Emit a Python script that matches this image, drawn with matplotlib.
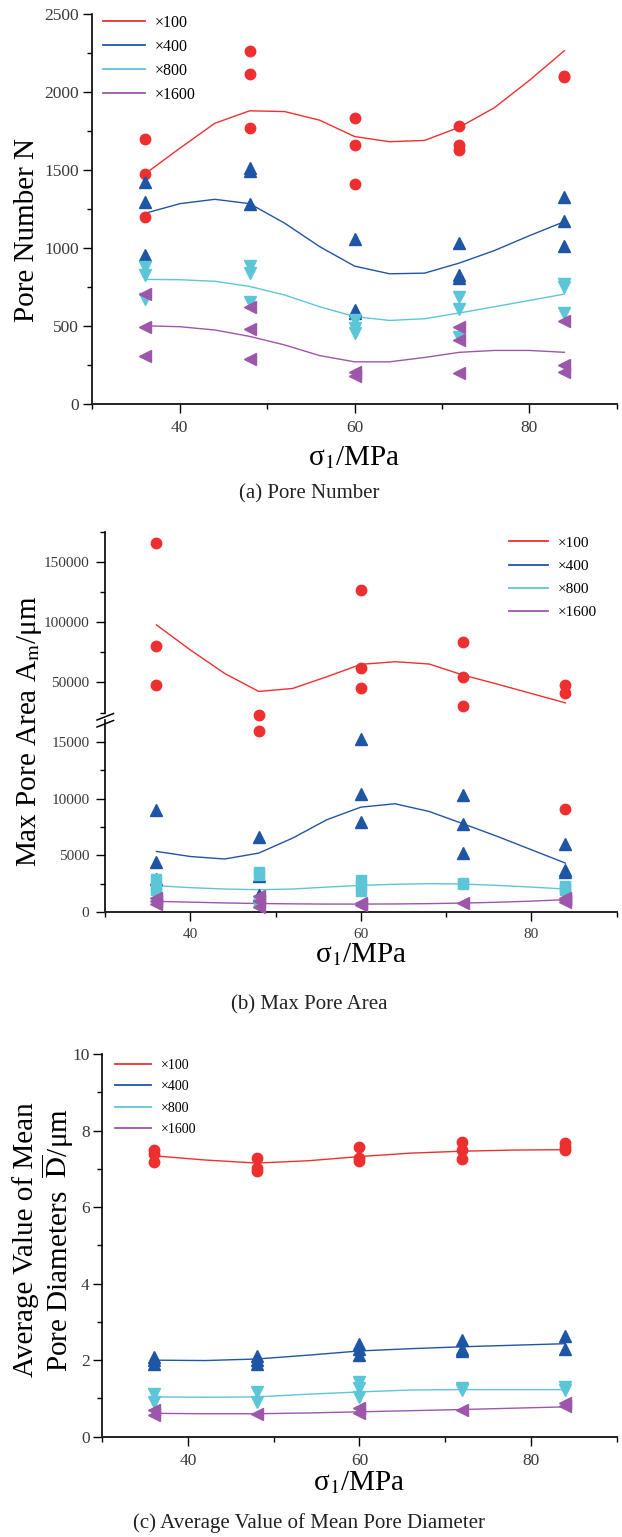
import matplotlib
matplotlib.use("Agg")
import matplotlib.pyplot as plt
from matplotlib.lines import Line2D
from matplotlib.ticker import MultipleLocator, FixedLocator

plt.rcParams['font.family'] = ['Liberation Serif', 'DejaVu Serif']
plt.rcParams['mathtext.fontset'] = 'stix'

# ---------------- data ----------------
sigma = [36, 48, 60, 72, 84]
series_labels = ['×100', '×400', '×800', '×1600']
colors = ['#EE2F2F', '#1F55A5', '#5CC6D8', '#9C56AA']

# (a) Pore Number N : measured points at each sigma
a_pts_100 = [[1699, 1473, 1202], [2263, 2116, 1772], [1834, 1663, 1409], [1783, 1661, 1627], [2103, 2094]]
a_pts_400 = [[1426, 1294, 956], [1511, 1497, 1281], [1057, 604, 583], [1035, 828, 811], [1326, 1174, 1014]]
a_pts_800 = [[882, 828, 673], [888, 839, 658], [540, 487, 455], [690, 608, 433], [771, 749, 583]]
a_pts_1600 = [[707, 493, 312], [626, 482, 288], [209, 181], [497, 412, 203], [536, 252, 209]]
# (a) fitted curves, read at these sigma values
a_curve_x = [36, 40, 44, 48, 52, 56, 60, 64, 68, 72, 76, 80, 84]
a_fit_100 = [1475, 1640, 1800, 1880, 1875, 1820, 1715, 1682, 1690, 1775, 1900, 2075, 2265]
a_fit_400 = [1223, 1285, 1313, 1285, 1160, 1010, 885, 836, 840, 905, 985, 1080, 1170]
a_fit_800 = [800, 798, 788, 755, 700, 625, 562, 537, 548, 585, 625, 665, 706]
a_fit_1600 = [503, 497, 476, 435, 380, 312, 272, 272, 300, 333, 345, 345, 333]

# (b) Max Pore Area
b_pts_100 = [[165600, 80300, 47500], [23300, 16000], [127200, 61900, 45300], [83900, 54700, 30600], [48100, 40800, 9100]]
b_pts_400 = [[8970, 4380, 2900], [6620, 3150, 1530], [15260, 10410, 7910], [10350, 7790, 5200], [6030, 3740, 3530]]
b_pts_800 = [[2940, 2260, 1970], [3530, 3290, 950], [2850, 2410, 1820], [2560, 2450], [2320, 1970, 2100]]
b_pts_1600 = [[1250, 950, 700], [1380, 940, 400], [800, 600], [760], [1090, 1200, 880]]
b_curve_x = [36, 40, 44, 48, 52, 56, 60, 64, 68, 72, 76, 80, 84]
b_fit_100 = [97800, 76900, 57500, 42500, 45000, 54700, 65000, 67200, 65300, 56100, 48600, 40800, 33000]
b_fit_400 = [5350, 4900, 4680, 5200, 6530, 8150, 9260, 9560, 8880, 7790, 6680, 5500, 4320]
b_fit_800 = [2320, 2150, 2030, 1970, 2030, 2200, 2350, 2450, 2500, 2470, 2350, 2200, 2030]
b_fit_1600 = [940, 870, 800, 750, 720, 700, 700, 710, 740, 790, 860, 960, 1090]

# (c) Average value of mean pore diameter
c_pts_100 = [[7.48, 7.39, 7.19], [7.28, 7.01, 6.93], [7.56, 7.28, 7.21], [7.69, 7.48, 7.26], [7.67, 7.58, 7.49]]
c_pts_400 = [[2.09, 1.91, 2.00], [2.10, 2.00, 1.90], [2.41, 2.30, 2.13], [2.52, 2.30, 2.24], [2.63, 2.29]]
c_pts_800 = [[1.11, 0.91], [1.16, 0.91], [1.42, 1.26, 1.04], [1.28, 1.22], [1.30, 1.22]]
c_pts_1600 = [[0.71, 0.57], [0.59], [0.74, 0.63], [0.71], [0.89, 0.80]]
c_curve_x = [36, 42, 48, 54, 60, 66, 72, 78, 84]
c_fit_100 = [7.34, 7.23, 7.15, 7.21, 7.32, 7.41, 7.46, 7.49, 7.50]
c_fit_400 = [2.00, 1.99, 2.03, 2.13, 2.24, 2.30, 2.35, 2.39, 2.43]
c_fit_800 = [1.04, 1.03, 1.04, 1.11, 1.17, 1.22, 1.23, 1.23, 1.23]
c_fit_1600 = [0.61, 0.60, 0.60, 0.62, 0.65, 0.68, 0.71, 0.745, 0.78]

# ---------------- layout helpers ----------------
W, H = 622, 1537
fig = plt.figure(figsize=(W / 100, H / 100), dpi=100)


def rect(l, r, t, b):
    return [l / W, 1 - b / H, (r - l) / W, (b - t) / H]


def expand(groups):
    xs = [s for s, g in zip(sigma, groups) for _ in g]
    ys = [v for g in groups for v in g]
    return xs, ys


TICK_COLOR = '#3a3a3a'


def style(ax, fs, ypad, show_bottom=True):
    ax.spines['top'].set_visible(False)
    ax.spines['right'].set_visible(False)
    ax.spines['left'].set_linewidth(1.2)
    ax.spines['bottom'].set_linewidth(1.4)
    ax.spines['bottom'].set_color('#222222')
    ax.set_xlim(30, 90)
    ax.xaxis.set_major_locator(FixedLocator([40, 60, 80]))
    ax.xaxis.set_minor_locator(FixedLocator([30, 50, 70, 90]))
    ax.tick_params(axis='both', which='major', direction='out', length=6.5, width=1.0,
                   labelsize=fs, labelcolor=TICK_COLOR)
    ax.tick_params(axis='both', which='minor', direction='out', length=3.5, width=1.0)
    ax.tick_params(axis='x', which='major', pad=5)
    ax.tick_params(axis='y', which='major', pad=ypad)
    if not show_bottom:
        ax.spines['bottom'].set_visible(False)
        ax.tick_params(axis='x', which='both', bottom=False, labelbottom=False)
    ax.patch.set_alpha(0)


def draw_series(ax, pts, curve_x, fits, markers, ms, clip=True):
    for pts_i, fit_i, c, m, s in zip(pts, fits, colors, markers, ms):
        ax.plot(curve_x, fit_i, color=c, lw=1.0, zorder=2)
        xs, ys = expand(pts_i)
        ax.plot(xs, ys, ls='none', marker=m, ms=s, color=c, mec=c, zorder=3, clip_on=clip)


def add_legend(ax, fs, x0, y0, hl, htp, ls):
    handles = [Line2D([0], [0], color=c, lw=1.3) for c in colors]
    ax.legend(handles, series_labels, loc='upper left', bbox_to_anchor=(x0 / W, 1 - y0 / H),
              bbox_transform=fig.transFigure, frameon=False, fontsize=fs, handlelength=hl,
              handletextpad=htp, labelspacing=ls, borderpad=0, borderaxespad=0)


def xlabel(ax_l, ax_r, baseline):
    fig.text(((ax_l + ax_r) / 2) / W, 1 - baseline / H, 'σ$_1$/MPa', ha='center',
             va='baseline', fontsize=21)


def caption(text, yc):
    fig.text(0.497, 1 - yc / H, text, ha='center', va='center', fontsize=15, color='#222222')


# ---------------- (a) ----------------
axA = fig.add_axes(rect(92.4, 616.8, 14, 404.3))
style(axA, 12.5, 3)
axA.set_ylim(0, 2500)
axA.yaxis.set_major_locator(MultipleLocator(500))
axA.yaxis.set_minor_locator(MultipleLocator(250))
draw_series(axA, [a_pts_100, a_pts_400, a_pts_800, a_pts_1600], a_curve_x,
            [a_fit_100, a_fit_400, a_fit_800, a_fit_1600], ['o', '^', 'v', '<'], [7.5, 8.5, 8.5, 8.5])
add_legend(axA, 11.5, 103, 15, 2.6, 0.65, 0.5)
fig.text(27 / W, 1 - 229.5 / H, 'Pore Number N', rotation=90, ha='center', va='center', fontsize=21)
xlabel(92.4, 616.8, 465)
caption('(a) Pore Number', 494)

# ---------------- (b) broken axis ----------------
axBt = fig.add_axes(rect(105.3, 616.5, 532, 712.5))
axBb = fig.add_axes(rect(105.3, 616.5, 719.5, 912))
style(axBt, 11, 5, show_bottom=False)
style(axBb, 11, 5)
axBt.set_ylim(25000, 175000)
axBt.yaxis.set_major_locator(FixedLocator([50000, 100000, 150000]))
axBt.yaxis.set_minor_locator(FixedLocator([25000, 75000, 125000, 175000]))
axBb.set_ylim(0, 17000)
axBb.yaxis.set_major_locator(MultipleLocator(5000))
axBb.yaxis.set_minor_locator(MultipleLocator(2500))
b_pts = [b_pts_100, b_pts_400, b_pts_800, b_pts_1600]
b_fits = [b_fit_100, b_fit_400, b_fit_800, b_fit_1600]
b_markers = ['o', '^', 's', '<']
b_ms = [7.5, 8.5, 7.0, 8.5]
for ax_, lo, hi in [(axBt, 25000, 175000), (axBb, 0, 17000)]:
    for pts_i, fit_i, c, m, s in zip(b_pts, b_fits, colors, b_markers, b_ms):
        ax_.plot(b_curve_x, fit_i, color=c, lw=1.0, zorder=2)
        xs, ys = expand(pts_i)
        inside = [(x, y) for x, y in zip(xs, ys) if lo - 3000 <= y <= hi]
        if inside:
            ax_.plot([p[0] for p in inside], [p[1] for p in inside], ls='none', marker=m, ms=s,
                     color=c, mec=c, zorder=3, clip_on=False)
add_legend(axBt, 11, 508.5, 536, 2.6, 0.65, 0.62)
# break marks
for y1, y2 in [(720, 713.5), (727, 720.5)]:
    fig.add_artist(Line2D([97 / W, 113.5 / W], [1 - y1 / H, 1 - y2 / H], transform=fig.transFigure,
                          color='black', lw=1.1))
fig.text(30 / W, 1 - 731 / H, 'Max Pore Area A$_\\mathrm{m}$/μm', rotation=90, ha='center',
         va='center', fontsize=21)
xlabel(105.3, 616.5, 962)
caption('(b) Max Pore Area', 1005)

# ---------------- (c) ----------------
axC = fig.add_axes(rect(102.3, 616.5, 1054, 1436.7))
style(axC, 12.5, 2.5)
axC.set_ylim(0, 10)
axC.yaxis.set_major_locator(MultipleLocator(2))
axC.yaxis.set_minor_locator(MultipleLocator(1))
draw_series(axC, [c_pts_100, c_pts_400, c_pts_800, c_pts_1600], c_curve_x,
            [c_fit_100, c_fit_400, c_fit_800, c_fit_1600], ['o', '^', 'v', '<'], [7.5, 8.5, 8.5, 8.5])
add_legend(axC, 10, 115, 1059, 2.6, 0.7, 0.6)
fig.text(44 / W, 1 - 1240 / H, 'Average Value of Mean\nPore Diameters  $\\overline{\\mathrm{D}}$/μm',
         rotation=90, ha='center', va='center', fontsize=21, multialignment='center', linespacing=1.0)
xlabel(102.3, 616.5, 1490)
caption('(c) Average Value of Mean Pore Diameter', 1523.5)

fig.savefig('out.png', dpi=100)
